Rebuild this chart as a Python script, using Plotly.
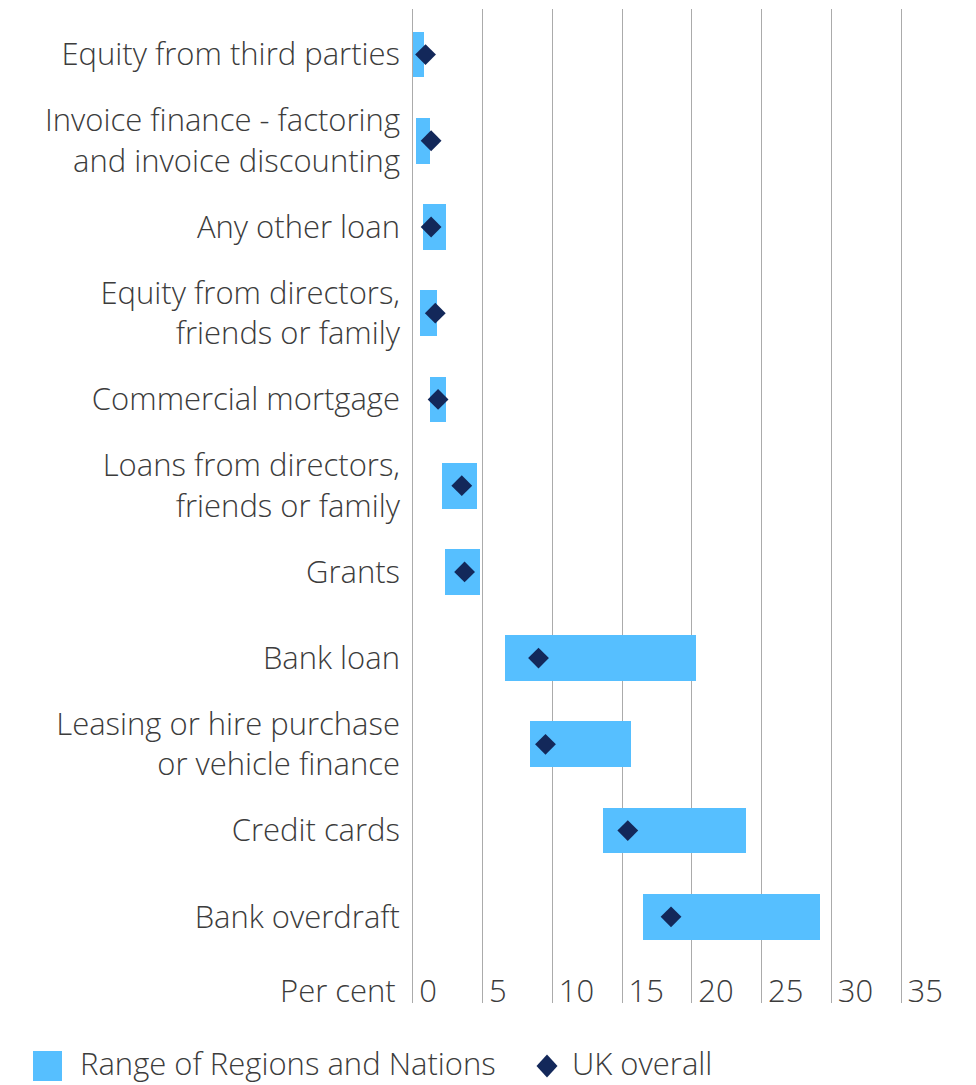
import plotly.graph_objects as go

# Sources of finance, top to bottom
categories = [
    "Equity from third parties",
    "Invoice finance - factoring<br>and invoice discounting",
    "Any other loan",
    "Equity from directors,<br>friends or family",
    "Commercial mortgage",
    "Loans from directors,<br>friends or family",
    "Grants",
    "Bank loan",
    "Leasing or hire purchase<br>or vehicle finance",
    "Credit cards",
    "Bank overdraft",
]
range_low = [0.0, 0.2, 0.7, 0.5, 1.2, 2.1, 2.3, 6.6, 8.4, 13.6, 16.5]
range_high = [0.8, 1.2, 2.4, 1.7, 2.4, 4.6, 4.8, 20.3, 15.6, 23.9, 29.2]
uk_overall = [0.9, 1.3, 1.3, 1.6, 1.8, 3.5, 3.7, 9.0, 9.5, 15.4, 18.5]

tick_values = [0, 5, 10, 15, 20, 25, 30, 35]
tick_labels = ["0", "5", "10", "15", "20", "25", "30", "35"]
axis_title = "Per cent"
legend_names = ["Range of Regions and Nations", "UK overall"]

BAR_COLOUR = "#56BFFF"
MARKER_COLOUR = "#13285A"
GRID_COLOUR = "#ABABAB"
TEXT_COLOUR = "#3C3C3C"
FONT = "Open Sans"
TEXT_FONT = dict(family=FONT, size=31, color=TEXT_COLOUR, weight=300)

W, H = 976, 1085
M_L, M_R, M_T, M_B = 406, 26, 9, 82
X_RANGE = [-0.5, 38.5]

# pad single digits so every label starts just right of its gridline
padded_labels = [t if len(t) > 1 else t + "\u2007" for t in tick_labels]

fig = go.Figure()
fig.add_trace(go.Bar(
    y=categories,
    x=[h - l for l, h in zip(range_low, range_high)],
    base=range_low,
    orientation="h",
    width=0.53,
    marker=dict(color=BAR_COLOUR, line=dict(width=0)),
    name=legend_names[0],
    showlegend=False,
    hoverinfo="skip",
))
fig.add_trace(go.Scatter(
    y=categories,
    x=uk_overall,
    mode="markers",
    marker=dict(symbol="diamond", size=16, color=MARKER_COLOUR, line=dict(width=0)),
    name=legend_names[1],
    showlegend=False,
))

plot_w = W - M_L - M_R
plot_h = H - M_T - M_B


def px_to_paper(px, py):
    return (px - M_L) / plot_w, (H - M_B - py) / plot_h


# legend drawn below the chart
sx0, sy0 = px_to_paper(33, 1051)
sx1, sy1 = px_to_paper(62, 1081)
fig.add_shape(type="rect", xref="paper", yref="paper", x0=sx0, x1=sx1, y0=sy1, y1=sy0,
              fillcolor=BAR_COLOUR, line=dict(width=0))
cx, cy = px_to_paper(547, 1066)
dx = 10.5 / plot_w
dy = 11.5 / plot_h
fig.add_shape(type="path", xref="paper", yref="paper",
              path=f"M {cx - dx} {cy} L {cx} {cy + dy} L {cx + dx} {cy} L {cx} {cy - dy} Z",
              fillcolor=MARKER_COLOUR, line=dict(width=0))
for name, lx in zip(legend_names, [78, 570]):
    ax, ay = px_to_paper(lx, 1063)
    fig.add_annotation(xref="paper", yref="paper", x=ax, y=ay, text=name,
                       showarrow=False, xanchor="left", yanchor="middle", font=TEXT_FONT)

# axis caption to the left of the numbers
cap_x, _ = px_to_paper(398, 0)
fig.add_annotation(xref="paper", yref="paper", x=cap_x, y=0, yshift=-10,
                   text=axis_title, showarrow=False, xanchor="right", yanchor="bottom",
                   font=TEXT_FONT)

fig.update_layout(
    width=W, height=H,
    margin=dict(l=M_L, r=M_R, t=M_T, b=M_B),
    plot_bgcolor="white", paper_bgcolor="white",
    font=TEXT_FONT,
    bargap=0,
)
fig.update_xaxes(
    range=X_RANGE,
    tickvals=tick_values,
    ticktext=padded_labels,
    ticklabelposition="inside",
    ticklabelshift=24,
    ticklabelstandoff=-8,
    showgrid=True, gridcolor=GRID_COLOUR, gridwidth=1,
    zeroline=False, showline=False, ticks="",
    tickfont=TEXT_FONT,
)
fig.update_yaxes(
    type="category",
    categoryorder="array", categoryarray=categories,
    range=[11.0, -0.528],
    showgrid=False, zeroline=False, showline=False, ticks="",
    ticklabelstandoff=5,
    tickfont=TEXT_FONT,
)

fig.write_html("out.html")
